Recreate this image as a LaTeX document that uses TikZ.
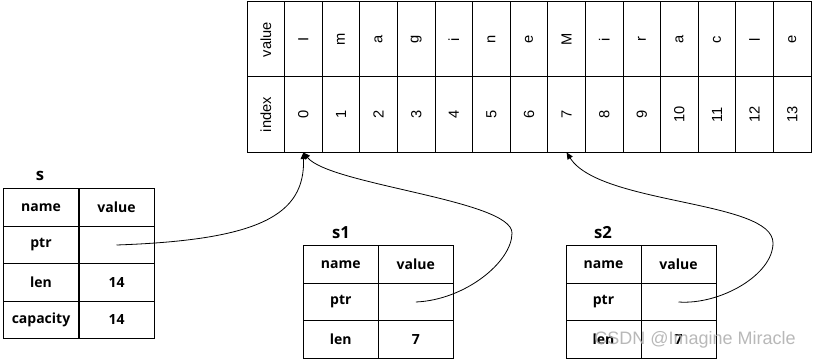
\documentclass[tikz,border=0pt]{standalone}
\usepackage{fontspec}
\setmainfont{Liberation Sans}
\newfontfamily\tabfont{Open Sans}
\newfontfamily\wmfont{Liberation Sans}
\usetikzlibrary{arrows.meta}
\begin{document}
\begin{tikzpicture}[x=0.75pt,y=-0.75pt,
  topcell/.style={draw, line width=0.75pt, minimum width=28.2pt, minimum height=56.25pt, inner sep=0pt, font=\fontsize{11}{12}\selectfont},
  memcell/.style={draw, line width=0.75pt, minimum width=56.25pt, minimum height=28.1pt, inner sep=0pt, font=\tabfont\bfseries\fontsize{10.5}{12}\selectfont},
  tlabel/.style={font=\tabfont\bfseries\fontsize{12.5}{14}\selectfont, inner sep=0pt},
  ptr/.style={line width=0.6pt, -{Triangle[length=5pt,width=4.5pt]}}]
\useasboundingbox (0,0) rectangle (814,360);

% top table
\node[topcell] (vh) at (265.8,39.5) {\rotatebox{90}{value}};
\node[topcell] (ih) at (265.8,114.5) {\rotatebox{90}{index}};
\foreach \t [count=\k from 0] in {I,m,a,g,i,n,e,M,i,r,a,c,l,e} {
  \node[topcell] (v\k) at ({247+37.6*(\k+1.5)},39.5) {\rotatebox{90}{\t}};
  \node[topcell] (ix\k) at ({247+37.6*(\k+1.5)},114.5) {\rotatebox{90}{\k}};
}

% s
\node[tlabel] (slab) at (40,176) {s};
\node[memcell] (s00) at (41,207.5) {name};
\node[memcell] (s01) at (116.5,207.5) {value};
\node[memcell] (s10) at (41,245) {ptr};
\node[memcell] (s11) at (116.5,245) {};
\node[memcell] (s20) at (41,282.5) {len};
\node[memcell] (s21) at (116.5,282.5) {14};
\node[memcell] (s30) at (41,320) {capacity};
\node[memcell] (s31) at (116.5,320) {14};

% s1
\node[tlabel] (s1lab) at (341,233) {s1};
\node[memcell] (a00) at (340.8,264.6) {name};
\node[memcell] (a01) at (415.8,264.6) {value};
\node[memcell] (a10) at (340.8,302) {ptr};
\node[memcell] (a11) at (415.8,302) {};
\node[memcell] (a20) at (340.8,339.3) {len};
\node[memcell] (a21) at (415.8,339.3) {7};

% s2
\node[tlabel] (s2lab) at (603,233) {s2};
\node[memcell] (b00) at (603.5,264.6) {name};
\node[memcell] (b01) at (678.5,264.6) {value};
\node[memcell] (b10) at (603.5,302) {ptr};
\node[memcell] (b11) at (678.5,302) {};
\node[memcell] (b20) at (603.5,339.3) {len};
\node[memcell] (b21) at (678.5,339.3) {7};

% pointers
\draw[ptr] (s11.center) .. controls (260,240) and (305,215) .. (ix0.south);
\draw[ptr] (a11.center) .. controls (465,300) and (512,262) .. (512,233)
  .. controls (512,200) and (330,185) .. (ix0.south);
\draw[ptr] (b11.center) .. controls (720,305) and (773,275) .. (773,243)
  .. controls (773,200) and (600,205) .. (ix7.south);

% watermark
\node[font=\wmfont\fontsize{13.5}{15}\selectfont, text=gray!65, opacity=0.85, inner sep=0pt] (wm) at (695,340) {CSDN @Imagine Miracle};
\end{tikzpicture}
\end{document}
